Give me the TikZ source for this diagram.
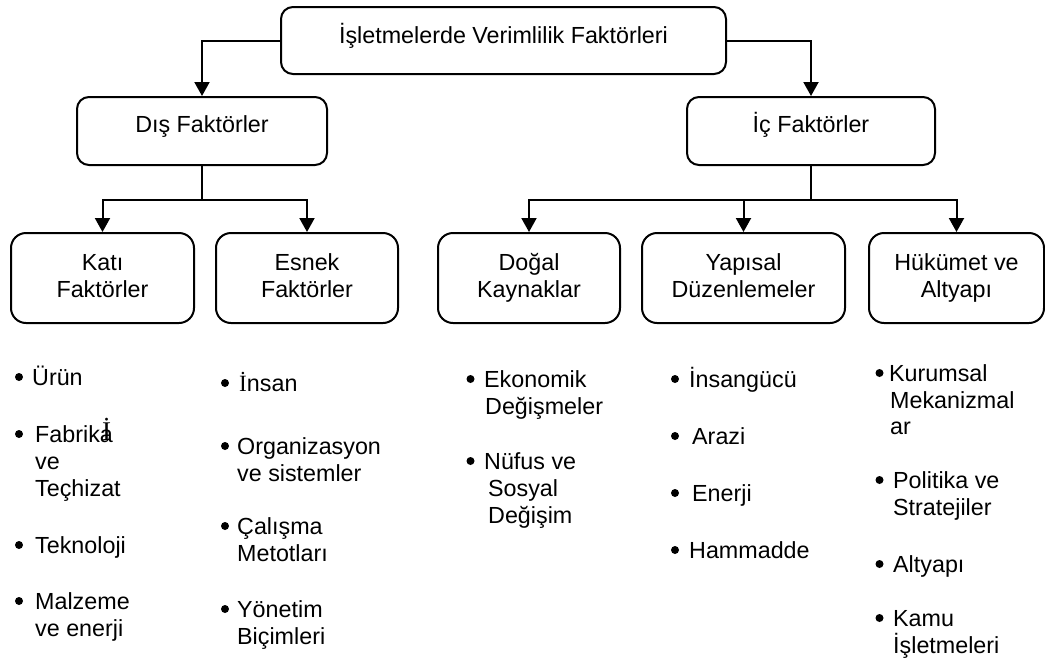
\documentclass[tikz,border=0pt]{standalone}
\usepackage{fontspec}
\setmainfont{Liberation Sans}
\newfontfamily\serifface{Liberation Serif}
\usetikzlibrary{arrows.meta}
% invisible strut that fixes the height and depth of each box line
\newcommand\lnst{\rule[-5pt]{0pt}{17pt}}

\begin{document}
\begin{tikzpicture}[x=1pt,y=-1pt,
  every node/.style={font=\fontsize{23.3}{27}\selectfont},
  frame/.style={draw, line width=2pt, rounded corners=12pt, inner sep=0pt},
  tallframe/.style={frame, rounded corners=15pt, minimum height=90pt, align=center},
  ln/.style={line width=2pt},
  arr/.style={line width=2pt, -{Triangle[length=14pt,width=15pt]}},
  txt/.style={anchor=base west, inner sep=0pt},
  blt/.style={circle, fill=black, inner sep=0pt, minimum size=8pt}]

\fill[white] (0,0) rectangle (1045,662);
\useasboundingbox (0,0) rectangle (1045,662);

% top level
\node[frame, minimum width=445pt, minimum height=67pt, text height=17pt, text depth=12pt]
  (top) at (503.5,40.5) {İşletmelerde Verimlilik Faktörleri};

% second level
\node[frame, minimum width=250pt, minimum height=68pt, text height=17pt, text depth=15pt]
  (dis) at (202,131) {Dış Faktörler};
\node[frame, minimum width=248pt, minimum height=68pt, text height=17pt, text depth=15pt]
  (ic) at (811,131) {İç Faktörler};

% third level
\node[tallframe, minimum width=183pt] (kati)  at (102.5,278) {Katı\lnst\\Faktörler\lnst};
\node[tallframe, minimum width=182pt] (esnek) at (307,278)   {Esnek\lnst\\Faktörler\lnst};
\node[tallframe, minimum width=182pt] (dogal) at (529,278)   {Doğal\lnst\\Kaynaklar\lnst};
\node[tallframe, minimum width=203pt] (yapi)  at (743.5,278) {Yapısal\lnst\\Düzenlemeler\lnst};
\node[tallframe, minimum width=175pt] (huk)   at (956.5,278) {Hükümet ve\lnst\\Altyapı\lnst};

% connectors
\draw[arr] (top.west) -| (dis.north);
\draw[arr] (top.east) -| (ic.north);

\draw[ln] (dis.south) -- ++(0,34) coordinate (dj);
\draw[arr] (dj) -| (kati.north);
\draw[arr] (dj) -| (esnek.north);

\draw[ln] (ic.south) -- ++(0,34) coordinate (ij);
\draw[arr] (ij) -| (dogal.north);
\draw[arr] (ij) -| (yapi.north);
\draw[arr] (ij) -| (huk.north);

% column 1
\node[blt] (b11) at (19,377) {};
\node[txt] (t11) at (32,385) {Ürün};
\node[blt] (b12) at (19,434) {};
\node[txt] (t12a) at (35,442) {Fabrika};
\node[txt] (t12b) at (35,469) {ve};
\node[txt] (t12c) at (35,496) {Teçhizat};
\node[txt, font=\fontsize{27}{27}\selectfont\serifface] (t12x) at (102,440) {İ};
\node[blt] (b13) at (19,545) {};
\node[txt] (t13) at (35,553) {Teknoloji};
\node[blt] (b14) at (19,601) {};
\node[txt] (t14a) at (35,609) {Malzeme};
\node[txt] (t14b) at (35,636) {ve enerji};

% column 2
\node[blt] (b21) at (225,383) {};
\node[txt] (t21) at (239,391) {{\serifface İ}nsan};
\node[blt] (b22) at (225,446) {};
\node[txt] (t22a) at (237,454) {Organizasyon};
\node[txt] (t22b) at (237,481) {ve sistemler};
\node[blt] (b23) at (225,526) {};
\node[txt] (t23a) at (237,534) {Çalışma};
\node[txt] (t23b) at (237,561) {Metotları};
\node[blt] (b24) at (225,609) {};
\node[txt] (t24a) at (237,617) {Yönetim};
\node[txt] (t24b) at (237,644) {Biçimleri};

% column 3
\node[blt] (b31) at (470.5,379) {};
\node[txt] (t31a) at (484,387) {Ekonomik};
\node[txt] (t31b) at (485,414) {Değişmeler};
\node[blt] (b32) at (470.5,461) {};
\node[txt] (t32a) at (484,469) {Nüfus ve};
\node[txt] (t32b) at (488,496) {Sosyal};
\node[txt] (t32c) at (488,523) {Değişim};

% column 4
\node[blt] (b41) at (675,379) {};
\node[txt] (t41) at (689,387) {İnsangücü};
\node[blt] (b42) at (675,436) {};
\node[txt] (t42) at (692,444) {Arazi};
\node[blt] (b43) at (675,493) {};
\node[txt] (t43) at (692,501) {Enerji};
\node[blt] (b44) at (675,550) {};
\node[txt] (t44) at (689,558) {Hammadde};

% column 5
\node[blt] (b51) at (879.5,373) {};
\node[txt] (t51a) at (889,381) {Kurumsal};
\node[txt] (t51b) at (890,408) {Mekanizmal};
\node[txt] (t51c) at (890,434) {ar};
\node[blt] (b52) at (879.5,480) {};
\node[txt] (t52a) at (893,488) {Politika ve};
\node[txt] (t52b) at (893,515) {Stratejiler};
\node[blt] (b53) at (879.5,564) {};
\node[txt] (t53) at (893,572) {Altyapı};
\node[blt] (b54) at (879.5,618) {};
\node[txt] (t54a) at (893,626) {Kamu};
\node[txt] (t54b) at (893,653) {İşletmeleri};
\end{tikzpicture}
\end{document}
